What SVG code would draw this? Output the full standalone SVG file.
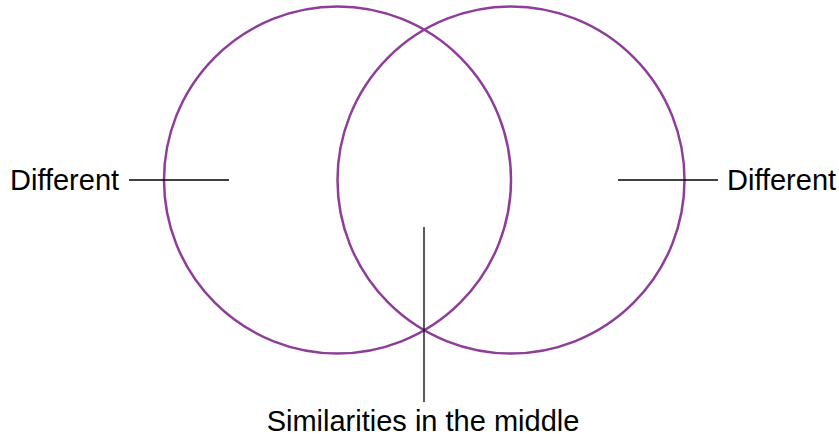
<svg xmlns="http://www.w3.org/2000/svg" width="839" height="440" viewBox="0 0 839 440">
<style>
.c{fill:none;stroke:#8E3D98;stroke-width:2.5}
.l{stroke:#000;stroke-width:1.3;fill:none}
.t{font-family:"Liberation Sans",Arial,sans-serif;font-size:29px;fill:#000}
</style>
<rect width="839" height="440" fill="#fff"/>
<g id="left-circle"><circle class="c" cx="337.5" cy="180" r="173.5"/></g>
<g id="right-circle"><circle class="c" cx="511" cy="180" r="173.5"/></g>
<g id="connectors">
<line class="l" x1="129" y1="180" x2="229" y2="180"/>
<line class="l" x1="618" y1="180" x2="718" y2="180"/>
<line class="l" x1="424" y1="227" x2="424" y2="402"/>
</g>
<g id="label-left"><text class="t" x="10" y="190">Different</text></g>
<g id="label-right"><text class="t" x="727" y="190">Different</text></g>
<g id="label-middle"><text class="t" x="423" y="431" text-anchor="middle">Similarities in the middle</text></g>
</svg>
